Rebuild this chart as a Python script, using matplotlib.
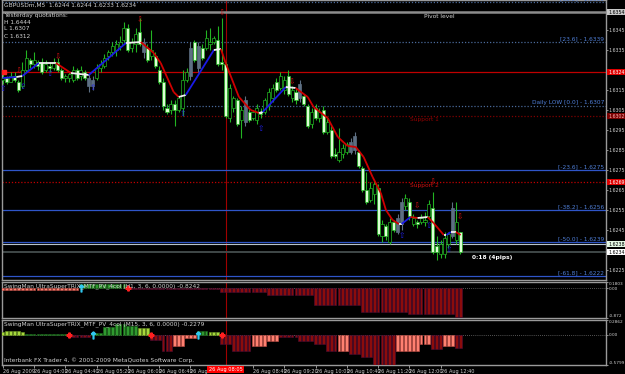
import numpy as np
import matplotlib.pyplot as plt
import matplotlib.transforms as mtransforms
from matplotlib.collections import LineCollection

# GBPUSDm M5, 26 Aug 2009, bars 03:20 .. 13:05
opens = [1.6320, 1.6321, 1.6319, 1.6322, 1.6319, 1.6317, 1.6325, 1.6330, 1.6328, 1.6329, 1.6329, 1.6325,
         1.6327, 1.6326, 1.6329, 1.6325, 1.6321, 1.6321, 1.6320, 1.6325, 1.6322, 1.6324, 1.6321, 1.6317,
         1.6321, 1.6326, 1.6327, 1.6332, 1.6334, 1.6335, 1.6337, 1.6340, 1.6346, 1.6336, 1.6338, 1.6344,
         1.6339, 1.6336, 1.6332, 1.6332, 1.6325, 1.6319, 1.6306, 1.6305, 1.6308, 1.6305, 1.6306, 1.6320,
         1.6322, 1.6339, 1.6326, 1.6336, 1.6336, 1.6338, 1.6339, 1.6340, 1.6329, 1.6328, 1.6301, 1.6306,
         1.6310, 1.6300, 1.6299, 1.6304, 1.6301, 1.6300, 1.6304, 1.6304, 1.6307, 1.6311, 1.6319, 1.6316,
         1.6315, 1.6322, 1.6311, 1.6314, 1.6311, 1.6312, 1.6307, 1.6298, 1.6306, 1.6301, 1.6305, 1.6294,
         1.6295, 1.6283, 1.6280, 1.6283, 1.6284, 1.6284, 1.6285, 1.6284, 1.6276, 1.6265, 1.6260, 1.6263,
         1.6266, 1.6242, 1.6247, 1.6239, 1.6249, 1.6244, 1.6248, 1.6257, 1.6259, 1.6248, 1.6249, 1.6249,
         1.6249, 1.6252, 1.6256, 1.6237, 1.6233, 1.6233, 1.6238, 1.6242, 1.6240, 1.6244]
highs = [1.6323, 1.6322, 1.6324, 1.6324, 1.6320, 1.6329, 1.6335, 1.6331, 1.6334, 1.6330, 1.6331, 1.6330,
         1.6329, 1.6331, 1.6331, 1.6326, 1.6323, 1.6324, 1.6327, 1.6326, 1.6327, 1.6325, 1.6323, 1.6322,
         1.6328, 1.6330, 1.6333, 1.6335, 1.6339, 1.6340, 1.6342, 1.6349, 1.6348, 1.6341, 1.6346, 1.6351,
         1.6341, 1.6338, 1.6345, 1.6334, 1.6327, 1.6321, 1.6308, 1.6310, 1.6310, 1.6312, 1.6325, 1.6326,
         1.6339, 1.6340, 1.6339, 1.6338, 1.6345, 1.6346, 1.6342, 1.6347, 1.6351, 1.6329, 1.6318, 1.6312,
         1.6311, 1.6307, 1.6312, 1.6306, 1.6305, 1.6308, 1.6306, 1.6311, 1.6316, 1.6318, 1.6321, 1.6324,
         1.6322, 1.6325, 1.6317, 1.6316, 1.6320, 1.6313, 1.6308, 1.6306, 1.6308, 1.6306, 1.6307, 1.6301,
         1.6297, 1.6286, 1.6296, 1.6288, 1.6289, 1.6291, 1.6294, 1.6285, 1.6277, 1.6274, 1.6269, 1.6270,
         1.6268, 1.6250, 1.6248, 1.6251, 1.6250, 1.6253, 1.6261, 1.6263, 1.6261, 1.6253, 1.6250, 1.6253,
         1.6254, 1.6260, 1.6264, 1.6242, 1.6240, 1.6244, 1.6244, 1.6259, 1.6259, 1.6244]
lows = [1.6318, 1.6318, 1.6319, 1.6319, 1.6314, 1.6316, 1.6324, 1.6326, 1.6326, 1.6325, 1.6323, 1.6324,
        1.6324, 1.6325, 1.6324, 1.6320, 1.6319, 1.6319, 1.6319, 1.6320, 1.6320, 1.6320, 1.6314, 1.6315,
        1.6320, 1.6324, 1.6326, 1.6330, 1.6332, 1.6332, 1.6335, 1.6339, 1.6334, 1.6334, 1.6334, 1.6337,
        1.6331, 1.6329, 1.6330, 1.6326, 1.6318, 1.6305, 1.6303, 1.6303, 1.6297, 1.6304, 1.6302, 1.6319,
        1.6320, 1.6329, 1.6324, 1.6330, 1.6335, 1.6335, 1.6338, 1.6327, 1.6325, 1.6301, 1.6299, 1.6304,
        1.6297, 1.6291, 1.6297, 1.6299, 1.6300, 1.6298, 1.6301, 1.6303, 1.6305, 1.6309, 1.6314, 1.6315,
        1.6313, 1.6312, 1.6309, 1.6308, 1.6309, 1.6307, 1.6296, 1.6296, 1.6300, 1.6299, 1.6293, 1.6293,
        1.6281, 1.6281, 1.6279, 1.6281, 1.6283, 1.6283, 1.6283, 1.6276, 1.6264, 1.6258, 1.6259, 1.6258,
        1.6242, 1.6239, 1.6240, 1.6238, 1.6244, 1.6243, 1.6245, 1.6255, 1.6250, 1.6247, 1.6246, 1.6248,
        1.6247, 1.6251, 1.6233, 1.6230, 1.6231, 1.6231, 1.6236, 1.6241, 1.6238, 1.6233]
closes = [1.6321, 1.6319, 1.6322, 1.6320, 1.6315, 1.6325, 1.6331, 1.6328, 1.6330, 1.6327, 1.6324, 1.6328,
          1.6326, 1.6329, 1.6325, 1.6321, 1.6322, 1.6323, 1.6325, 1.6321, 1.6325, 1.6321, 1.6317, 1.6320,
          1.6326, 1.6328, 1.6331, 1.6334, 1.6337, 1.6338, 1.6339, 1.6346, 1.6335, 1.6339, 1.6343, 1.6338,
          1.6334, 1.6330, 1.6335, 1.6327, 1.6319, 1.6307, 1.6304, 1.6308, 1.6305, 1.6311, 1.6320, 1.6324,
          1.6336, 1.6330, 1.6337, 1.6331, 1.6341, 1.6339, 1.6341, 1.6328, 1.6328, 1.6302, 1.6316, 1.6311,
          1.6298, 1.6305, 1.6310, 1.6300, 1.6304, 1.6306, 1.6303, 1.6310, 1.6314, 1.6316, 1.6315, 1.6322,
          1.6320, 1.6313, 1.6315, 1.6310, 1.6318, 1.6308, 1.6297, 1.6304, 1.6301, 1.6304, 1.6294, 1.6299,
          1.6282, 1.6282, 1.6284, 1.6286, 1.6288, 1.6289, 1.6292, 1.6277, 1.6265, 1.6259, 1.6266, 1.6268,
          1.6243, 1.6248, 1.6242, 1.6249, 1.6245, 1.6251, 1.6259, 1.6261, 1.6252, 1.6251, 1.6248, 1.6251,
          1.6250, 1.6258, 1.6234, 1.6234, 1.6238, 1.6241, 1.6243, 1.6256, 1.6249, 1.6234]
grey_bars = [22, 23, 36, 48, 50, 62, 76, 89, 90, 101, 102, 115]

# smoothed trend line (blue up / red down / white turn)
ma_idx = [0, 3.5, 5, 9.2, 13.6, 17.4, 22, 31.5, 35.3, 38.6, 40.4, 43.7, 45, 46.8, 54, 55.8, 57,
          60.4, 63.4, 65.5, 66.5, 72.4, 74.9, 78, 79.5, 83.1, 85.7, 88.2, 90.3, 92.3, 94.6, 96.7,
          98, 99.7, 101.3, 102, 104.3, 106.1, 108.7, 110.2, 112.8, 113.5, 114.6, 115.9, 117.1]
ma_val = [1.6321, 1.63215, 1.6322, 1.63285, 1.63285, 1.63235, 1.63225, 1.63385, 1.6339, 1.63335,
          1.63285, 1.6314, 1.63115, 1.63125, 1.6335, 1.63355, 1.63285, 1.63115, 1.6305, 1.63035,
          1.6304, 1.63165, 1.6316, 1.63115, 1.63065, 1.6301, 1.62915, 1.6287, 1.62865, 1.62815,
          1.62715, 1.62635, 1.6255, 1.625, 1.6248, 1.6248, 1.62515, 1.6251, 1.62515, 1.62485,
          1.62425, 1.62425, 1.6244, 1.6244, 1.62425]
ma_state = "bwbwrwbwrrrrwbwrrrrwbwrrrrrrrrrrrrwbrwrrwbwr"

arrow_dn_idx = [4, 14, 35, 56, 74, 106, 110, 117]
arrow_dn_px = [1.63245, 1.63315, 1.6350, 1.63535, 1.6319, 1.6257, 1.6269, 1.62515]
arrow_up_idx = [0, 5, 12, 23, 46, 66, 102, 109, 114]
arrow_up_px = [1.6316, 1.6317, 1.63235, 1.63165, 1.63035, 1.6296, 1.6242, 1.62475, 1.62355]

fib_levels = [1.6359, 1.6339, 1.6307, 1.6275, 1.6255, 1.6239, 1.6222]
fib_labels = ["[38.2] - 1.6359", "[23.6] - 1.6339", "Daily LOW [0.0] - 1.6307", "[-23.6] - 1.6275",
              "[-38.2] - 1.6256", "[-50.0] - 1.6239", "[-61.8] - 1.6222"]
pivot = 1.6354
red_line = 1.6324
support1 = 1.6302
support2 = 1.6269
ask = 1.6238
bid = 1.6234

# SwingMan UltraSuperTRIX, H1 and M15
p1_vals = [-0.04, -0.04, -0.04, -0.04, -0.04, -0.04, -0.04, -0.04,
           -0.04, -0.04, -0.04, -0.04, -0.04, -0.04, -0.04, -0.04, -0.04, -0.04, -0.04, -0.04,
           0.12, 0.12, 0.12, 0.12, 0.12, 0.12, 0.12, 0.12, 0.12, 0.12, 0.12, 0.12,
           -0.03, -0.03, -0.03, -0.03, -0.03, -0.03, -0.03, -0.03, -0.03, -0.03, -0.03, -0.03,
           -0.03, -0.03, -0.03, -0.03, -0.03, -0.03, -0.03, -0.03, -0.03, -0.03, -0.03, -0.03,
           -0.12, -0.12, -0.12, -0.12, -0.12, -0.12, -0.12, -0.12, -0.12, -0.12, -0.12, -0.12,
           -0.21, -0.21, -0.21, -0.21, -0.21, -0.21, -0.21, -0.21, -0.21, -0.21, -0.21, -0.21,
           -0.48, -0.48, -0.48, -0.48, -0.48, -0.48, -0.48, -0.48, -0.48, -0.48, -0.48, -0.48,
           -0.69, -0.69, -0.69, -0.69, -0.69, -0.69, -0.69, -0.69, -0.69, -0.69, -0.69, -0.69,
           -0.75, -0.75, -0.75, -0.75, -0.75, -0.75, -0.75, -0.75, -0.75, -0.75, -0.75, -0.75,
           -0.84, -0.84]
p1_state = "s" * 20 + "g" * 12 + "r" * 86
p2_vals = [0.06, 0.07, 0.07, 0.08, 0.07, 0.06,
           0.02, 0.02, 0.02, 0.02, 0.02, 0.02, 0.02, 0.02, 0.02, 0.02, 0.02,
           -0.04, -0.04, -0.04, -0.04, -0.04, -0.04,
           0.04, 0.04, 0.04, 0.15, 0.15, 0.15, 0.21, 0.21, 0.21, 0.17, 0.17, 0.17, 0.13, 0.13, 0.13,
           -0.10, -0.10, -0.10, -0.32, -0.32, -0.32, -0.21, -0.21, -0.21, -0.06, -0.06, -0.06,
           0.07, 0.07, 0.07, 0.05, 0.05, 0.05,
           -0.17, -0.17, -0.17, -0.32, -0.32, -0.32, -0.32, -0.32, -0.21, -0.21, -0.21, -0.21,
           -0.11, -0.11, -0.11, -0.05, -0.05, -0.05, -0.05, -0.05, -0.11, -0.11, -0.11, -0.11,
           -0.17, -0.17, -0.17, -0.32, -0.32, -0.32, -0.32, -0.32, -0.32, -0.36, -0.36, -0.36,
           -0.42, -0.42, -0.42, -0.59, -0.59, -0.59, -0.59, -0.59, -0.59,
           -0.32, -0.32, -0.32, -0.32, -0.32, -0.32, -0.17, -0.17, -0.17,
           -0.28, -0.28, -0.28, -0.21, -0.21, -0.21, -0.25, -0.25]
p2_state = ("y" * 6 + "g" * 11 + "r" * 6 + "g" * 12 + "y" * 3 + "r" * 6 + "s" * 6 + "g" * 3 + "y" * 3
            + "r" * 8 + "s" * 7 + "r" * 15 + "s" * 3 + "r" * 12 + "s" * 9 + "r" * 3 + "s" * 3 + "r" * 2)
p1_cross = [32]
p1_up = [20]
p2_cross = [17, 38, 56]
p2_up = [23, 50]

tick_idx = [0, 8, 16, 24, 32, 40, 48, 64, 72, 80, 88, 96, 104, 112]
tick_lbl = ["26 Aug 2009", "26 Aug 04:00", "26 Aug 04:40", "26 Aug 05:20", "26 Aug 06:00",
            "26 Aug 06:40", "26 Aug 07:20", "26 Aug 08:40", "26 Aug 09:20", "26 Aug 10:00",
            "26 Aug 10:40", "26 Aug 11:20", "26 Aug 12:00", "26 Aug 12:40"]
cursor_bar = 57
cursor_lbl = "26 Aug 08:05"

W, H = 625, 374
FS = 4.2
FSR = 3.4   # right-hand scale
FST = 3.6   # time scale
GREY = '#9a9a9a'
TXT = '#d0d0d0'
fig = plt.figure(figsize=(W / 100, H / 100), dpi=100, facecolor='black')


def rect(x0, y0, x1, y1):
    return [x0 / W, 1 - y1 / H, (x1 - x0) / W, (y1 - y0) / H]


ax = fig.add_axes(rect(2, 0, 606, 280))
ax1 = fig.add_axes(rect(2, 282, 606, 318), sharex=ax)
ax2 = fig.add_axes(rect(2, 320, 606, 365), sharex=ax)
for a in (ax, ax1, ax2):
    a.set_facecolor('black')
    for s in a.spines.values():
        s.set_color(GREY)
        s.set_linewidth(1.0)
    a.yaxis.tick_right()
    a.tick_params(axis='y', colors=TXT, labelsize=FSR, length=1.5, pad=0.6, width=0.5)
    a.axvline(cursor_bar, color='#a00000', lw=0.8, zorder=1)
ax.tick_params(axis='x', bottom=False, labelbottom=False)
ax1.tick_params(axis='x', bottom=False, labelbottom=False)
ax.set_xlim(-0.2, 154.3)
ax.set_ylim(1.6220, 1.6360)

# horizontal levels
bl = mtransforms.blended_transform_factory(ax.transAxes, ax.transData)
for k, (lv, lb) in enumerate(zip(fib_levels, fib_labels)):
    dotted = k < 3
    col = '#4a6a9a' if dotted else '#2f55c8'
    if lv == ask:
        col = '#8fa4c8'
    ax.axhline(lv, color=col, lw=0.9, ls=(0, (1, 1.5)) if dotted else '-', zorder=1)
    ax.text(0.997, lv + 0.00003, lb, transform=bl, ha='right', va='bottom', fontsize=FS,
            color='#4f7fd8', zorder=5)
ax.axhline(pivot, color='#8c8c8c', lw=1.8, zorder=1)
ax.axhline(red_line, color='#c00000', lw=0.9, zorder=1)
ax.axhline(support1, color='#800000', lw=0.9, ls=(0, (1, 1.5)), zorder=1)
ax.axhline(support2, color='#c00000', lw=0.9, ls=(0, (1, 1.5)), zorder=1)
ax.axhline(ask, color='#b8c4cc', lw=0.8, zorder=1)
ax.axhline(bid, color='#404848', lw=1.4, zorder=1)

# candles
idx = np.arange(len(closes))
o, h, l, c = map(np.array, (opens, highs, lows, closes))
is_grey = np.isin(idx, grey_bars)
wick = np.where(is_grey, '#5d6f82', '#22b422')
face = np.where(is_grey, '#5d6f82', np.where(c < o, '#dcffd4', 'black'))
ax.vlines(idx, l, h, colors=wick, lw=0.8, zorder=3)
ax.bar(idx, np.maximum(np.abs(c - o), 0.00005), bottom=np.minimum(o, c), width=0.78,
       color=face, edgecolor=wick, linewidth=0.5, zorder=4)

# trend line
seg_col = {'b': '#1a1ae6', 'r': '#d00000', 'w': '#f0f0f0'}
pts = np.column_stack([ma_idx, ma_val])
segs = np.stack([pts[:-1], pts[1:]], axis=1)
ax.add_collection(LineCollection(segs, colors=[seg_col[s] for s in ma_state], lw=1.3, zorder=6))

for i, p in zip(arrow_dn_idx, arrow_dn_px):
    ax.text(i, p, '\u21e9', color='#d01010', fontsize=5.5, ha='center', va='center', zorder=7)
for i, p in zip(arrow_up_idx, arrow_up_px):
    ax.text(i, p, '\u21e7', color='#2020e0', fontsize=5.5, ha='center', va='center', zorder=7)


# texts in main window
def px_text(a, x, y, s, top, height, **kw):
    a.text((x - 2) / 604, 1 - (y - top) / height, s, transform=a.transAxes, fontsize=FS,
           va='center', ha='left', zorder=8, **kw)


px_text(ax, 4, 5, "GBPUSDm,M5  1.6244 1.6244 1.6233 1.6234", 0, 280, color=TXT)
px_text(ax, 4, 15, "Yesterday quotations:", 0, 280, color=TXT)
px_text(ax, 4, 22, "H 1.6444", 0, 280, color=TXT)
px_text(ax, 4, 29, "L 1.6307", 0, 280, color=TXT)
px_text(ax, 4, 36, "C 1.6312", 0, 280, color=TXT)
px_text(ax, 424, 16, "Pivot level", 0, 280, color=TXT)
px_text(ax, 410, 120, "Support 1", 0, 280, color='#900000')
px_text(ax, 410, 185, "Support 2", 0, 280, color='#d01010')
px_text(ax, 472, 257, "0:18 (4pips)", 0, 280, color='white', fontweight='bold')
ax.plot([0.3], [red_line], 's', color='#ff2020', ms=2.5, zorder=8, clip_on=False)

# price labels and boxes on the right
ax.set_yticks([1.6345, 1.6335, 1.6315, 1.6305, 1.6295, 1.6285, 1.6275, 1.6265, 1.6255, 1.6245, 1.6225])
ax.yaxis.set_major_formatter(plt.FormatStrFormatter('%.4f'))
for val, fc, tc in [(pivot, '#c8c8c8', 'black'), (red_line, '#e00000', 'white'),
                    (support1, '#7a0000', '#ffb0b0'), (support2, '#e00000', 'white'),
                    (ask, '#e4f8e4', 'black'), (bid, 'white', 'black')]:
    ax.text(1.0035, val, '%.4f' % val, transform=bl, fontsize=FSR, color=tc, va='center', ha='left',
            clip_on=False, zorder=9, bbox=dict(boxstyle='square,pad=0.15', fc=fc, ec='none'))

# indicator windows
state_col = {'g': '#2f9a2f', 'y': '#a6d83c', 'r': '#8c0c0c', 's': '#ff8070'}
state_edge = {'g': '#1e6a1e', 'y': '#6e9a22', 'r': '#4c0c38', 's': '#c85048'}
for a, vals, st, lo, hi, lbl in [
        (ax1, p1_vals, p1_state, -0.872, 0.1803, ["0.1803", "0.00", "-0.872"]),
        (ax2, p2_vals, p2_state, -0.5799, 0.2862, ["0.2862", "0.00", "-0.5799"])]:
    a.bar(idx, vals, width=0.72, color=[state_col[s] for s in st],
          edgecolor=[state_edge[s] for s in st], linewidth=0.4, zorder=3)
    a.axhline(0, color='#707070', lw=0.6, ls=(0, (1, 1.5)), zorder=2)
    a.set_ylim(lo, hi)
    a.set_yticks([hi, 0, lo])
    a.set_yticklabels(lbl)
    a.tick_params(axis='y', labelsize=3.1)
    tl = a.get_yticklabels()
    tl[0].set_va('top')
    tl[2].set_va('bottom')

for a, ups, crosses in [(ax1, p1_up, p1_cross), (ax2, p2_up, p2_cross)]:
    a.plot(ups, [0] * len(ups), ls='none', marker='$\u2191$', color='#30c8f0', ms=5, zorder=6)
    a.plot(crosses, [0] * len(crosses), ls='none', marker='P', color='#ff2020', ms=3.5, zorder=6)

px_text(ax1, 4, 286, "SwingMan UltraSuperTRIX_MTF_PV_4col (H1, 3, 6, 0.0000) -0.8242", 282, 36,
        color=TXT)
px_text(ax2, 4, 324, "SwingMan UltraSuperTRIX_MTF_PV_4col (M15, 3, 6, 0.0000) -0.2279", 320, 45,
        color=TXT)
px_text(ax2, 4, 360, "Interbank FX Trader 4, \u00a9 2001-2009 MetaQuotes Software Corp.", 320, 45,
        color=TXT)

ax2.set_xticks(tick_idx)
ax2.set_xticklabels(tick_lbl, ha='left')
ax2.tick_params(axis='x', colors=TXT, labelsize=FST, length=2, pad=1, width=0.5)
fig.text(2 / W + (cursor_bar + 0.2) * 604 / 154.5 / W, 1 - 369.5 / H, cursor_lbl, fontsize=FST,
         color='white', ha='center', va='center', zorder=10,
         bbox=dict(boxstyle='square,pad=0.25', fc='#ff0000', ec='none'))

fig.savefig('out.png', dpi=100, facecolor='black')
